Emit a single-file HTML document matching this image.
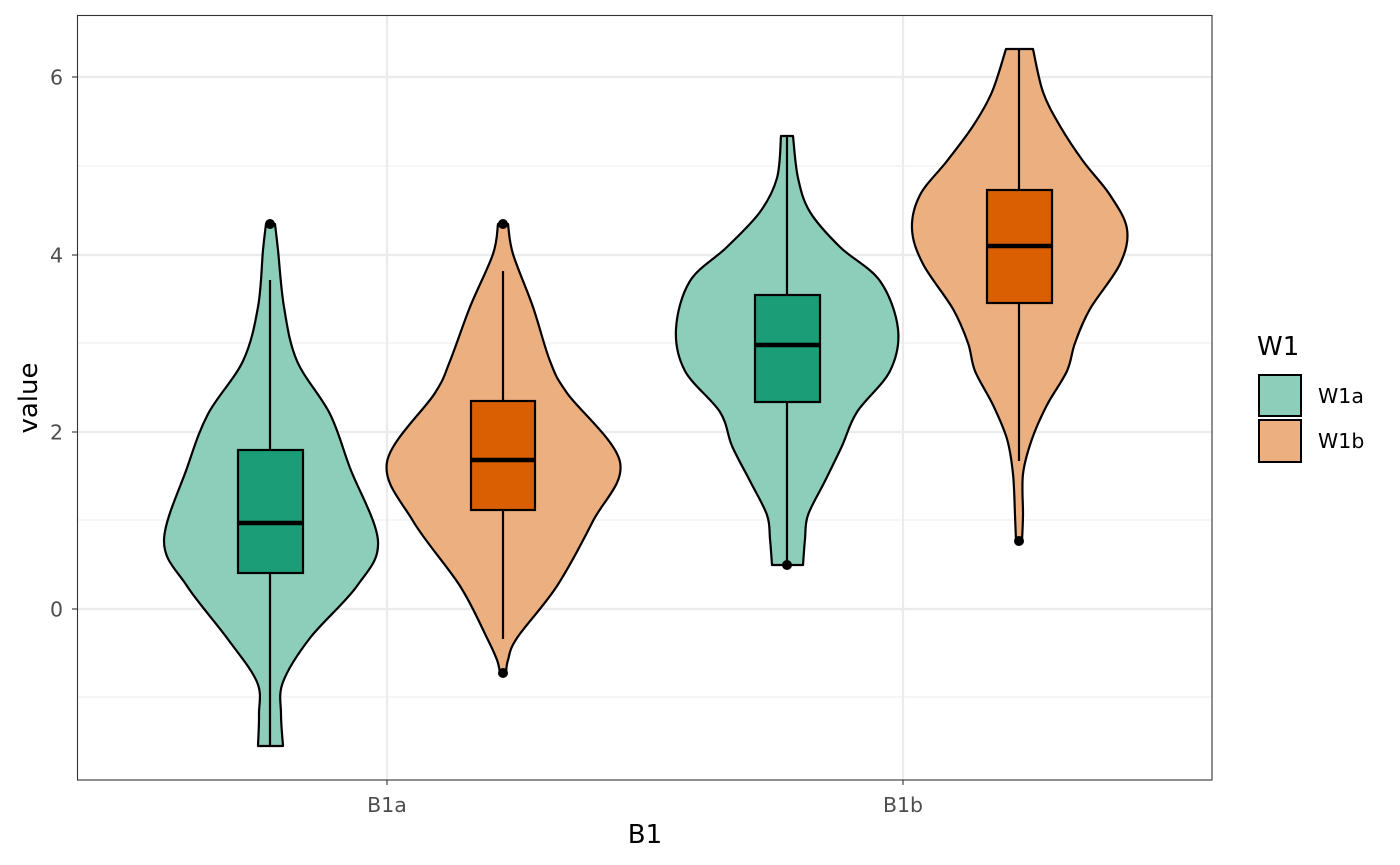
<!DOCTYPE html>
<html><head><meta charset="utf-8"><style>
html,body{margin:0;padding:0;background:#fff;}
svg{display:block;font-family:"DejaVu Sans","Liberation Sans",sans-serif;}
</style></head><body>
<svg id="s" width="1400" height="865" viewBox="0 0 1400 865" xmlns="http://www.w3.org/2000/svg">
<rect x="0" y="0" width="1400" height="865" fill="#fff"/>
<g stroke="#ebebeb" stroke-width="1.1">
<line x1="77" x2="1212" y1="166" y2="166"/><line x1="77" x2="1212" y1="343" y2="343"/>
<line x1="77" x2="1212" y1="520" y2="520"/><line x1="77" x2="1212" y1="697" y2="697"/>
</g>
<g stroke="#ebebeb" stroke-width="2.2">
<line x1="77" x2="1212" y1="77" y2="77"/><line x1="77" x2="1212" y1="255" y2="255"/>
<line x1="77" x2="1212" y1="432" y2="432"/><line x1="77" x2="1212" y1="609" y2="609"/>
<line x1="387" x2="387" y1="15" y2="780"/><line x1="903" x2="903" y1="15" y2="780"/>
</g>
<g id="v"></g>
<rect x="77.5" y="15.5" width="1134.5" height="764.5" fill="none" stroke="#333" stroke-width="1.1"/>
<g stroke="#333" stroke-width="1.1">
<line x1="72" x2="77" y1="77" y2="77"/><line x1="72" x2="77" y1="255" y2="255"/>
<line x1="72" x2="77" y1="432" y2="432"/><line x1="72" x2="77" y1="609" y2="609"/>
<line x1="387" x2="387" y1="780" y2="785"/><line x1="903" x2="903" y1="780" y2="785"/>
</g>
<g fill="#4d4d4d" font-size="20.5" text-anchor="end">
<text x="63" y="84.5">6</text><text x="63" y="262.5">4</text><text x="63" y="439.5">2</text><text x="63" y="616.5">0</text>
</g>
<g fill="#4d4d4d" font-size="20.5" text-anchor="middle">
<text x="387" y="812">B1a</text><text x="903" y="812">B1b</text>
</g>
<text x="645" y="843" font-size="26" text-anchor="middle" fill="#000">B1</text>
<text transform="translate(37,398) rotate(-90)" font-size="26" text-anchor="middle" fill="#000">value</text>
<text x="1257" y="355" font-size="26" fill="#000">W1</text>
<rect x="1259" y="375" width="42" height="41" fill="#8dcebb" stroke="#000" stroke-width="2"/>
<rect x="1259" y="420" width="42" height="42" fill="#ecaf80" stroke="#000" stroke-width="2"/>
<text x="1318" y="403" font-size="20.5" fill="#000">W1a</text>
<text x="1318" y="448" font-size="20.5" fill="#000">W1b</text>
</svg>
<script>
var V=[
{c:"#8dcebb",b:"#1b9e77",pts:[[224,266,275],[250,263,278],[307,258,284],[361,243,297],[414,208,330],[468,187,350],[541,164,378],[586,187,357],[638,227,310],[682,257,283],[714,259,281],[746,258,283]],
 box:[238,303,450,573,523],wh:[280,746],cx:270,out:[224]},
{c:"#ecaf80",b:"#d95f02",pts:[[224,498,508],[254,493,513],[307,470,533],[361,450,550],[393,435,567],[462,387,620],[521,413,593],[586,460,557],[638,487,517],[660,497,508],[673,500,506]],
 box:[471,535,401,510,460],wh:[271,639],cx:503,out:[224,673]},
{c:"#8dcebb",b:"#1b9e77",pts:[[136,781,793],[178,777,798],[212,760,810],[247,727,840],[281,690,880],[329,676,898],[371,685,890],[412,720,857],[446,732,842],[481,750,825],[515,767,808],[539,770,805],[565,772,803]],
 box:[755,820,295,402,345],wh:[136,565],cx:787,out:[565]},
{c:"#ecaf80",b:"#d95f02",pts:[[49,1006,1033],[92,992,1043],[126,973,1060],[161,947,1083],[195,920,1110],[229,912,1127],[264,923,1120],[309,953,1090],[343,968,1075],[371,975,1067],[405,993,1047],[439,1007,1032],[474,1013,1023],[515,1015,1023],[541,1016,1022]],
 box:[987,1052,190,303,246],wh:[49,461],cx:1019,out:[541]}
];
function cr(p){var d="";for(var i=0;i<p.length-1;i++){var p0=p[i-1]||p[i],p1=p[i],p2=p[i+1],p3=p[i+2]||p2;
var c1=[p1[0]+(p2[0]-p0[0])/6,p1[1]+(p2[1]-p0[1])/6],c2=[p2[0]-(p3[0]-p1[0])/6,p2[1]-(p3[1]-p1[1])/6];
d+=" C"+c1[0]+","+c1[1]+" "+c2[0]+","+c2[1]+" "+p2[0]+","+p2[1];}return d;}
var h="";
V.forEach(function(v){
var L=v.pts.map(function(q){return[q[1],q[0]]});var R=v.pts.map(function(q){return[q[2],q[0]]}).reverse();
var d="M"+L[0][0]+","+L[0][1]+cr(L)+" L"+R[0][0]+","+R[0][1]+cr(R)+" Z";
h+='<path d="'+d+'" fill="'+v.c+'" stroke="#000" stroke-width="2.2" stroke-linejoin="round"/>';
h+='<line x1="'+v.cx+'" x2="'+v.cx+'" y1="'+v.wh[0]+'" y2="'+v.wh[1]+'" stroke="#000" stroke-width="2.2"/>';
var b=v.box;
h+='<rect x="'+b[0]+'" y="'+b[2]+'" width="'+(b[1]-b[0])+'" height="'+(b[3]-b[2])+'" fill="'+v.b+'" stroke="#000" stroke-width="2.2"/>';
h+='<line x1="'+b[0]+'" x2="'+b[1]+'" y1="'+b[4]+'" y2="'+b[4]+'" stroke="#000" stroke-width="4.4"/>';
v.out.forEach(function(o){h+='<circle cx="'+v.cx+'" cy="'+o+'" r="5" fill="#000"/>';});
});
document.getElementById("v").innerHTML=h;
</script>
</body></html>
